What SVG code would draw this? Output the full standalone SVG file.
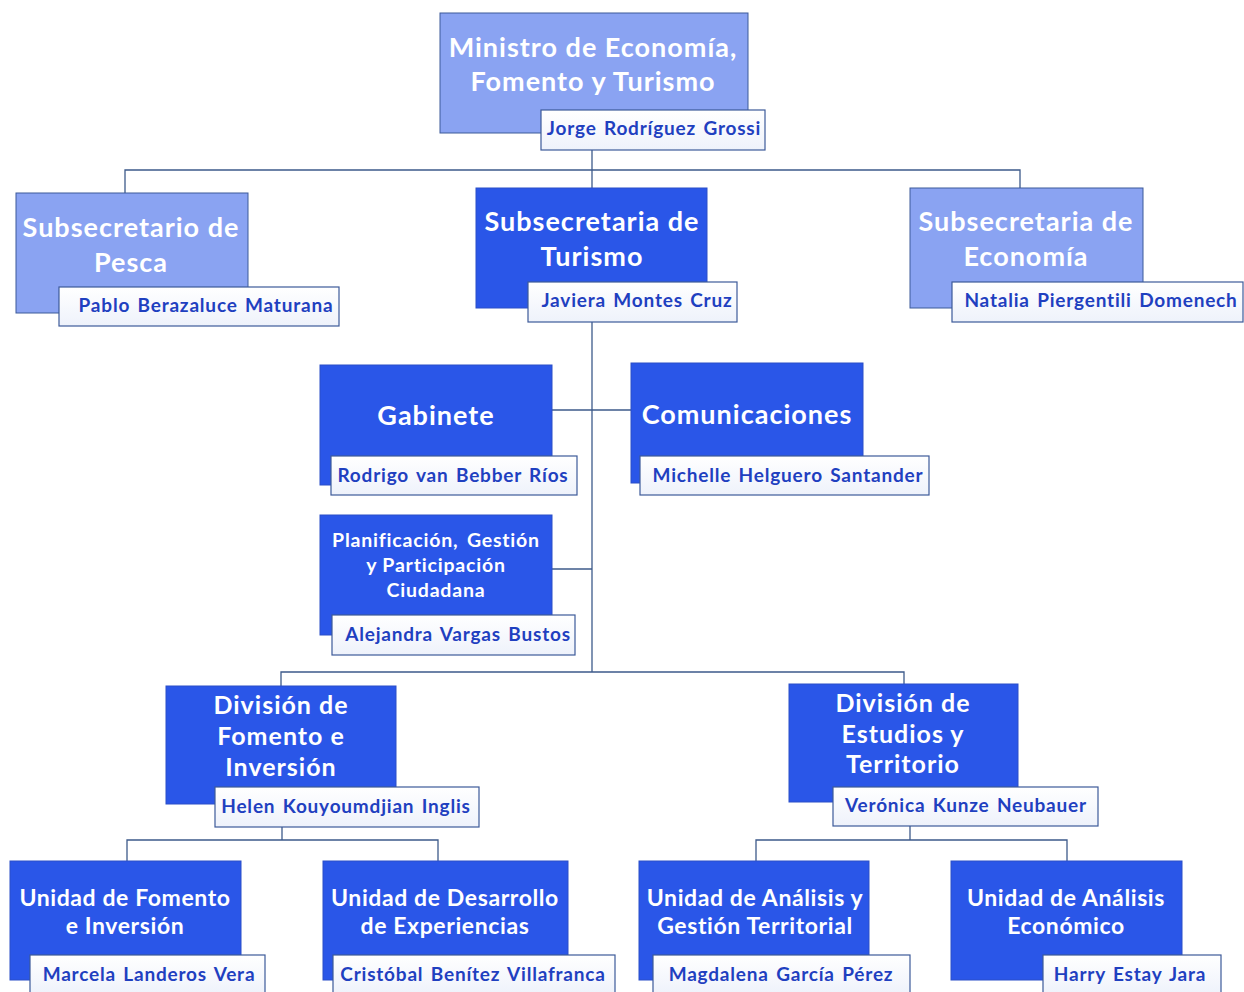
<svg xmlns="http://www.w3.org/2000/svg" width="1244" height="992" viewBox="0 0 1244 992">
<defs>
<linearGradient id="ng" x1="0" y1="0" x2="0" y2="1">
<stop offset="0" stop-color="#ffffff"/>
<stop offset="1" stop-color="#eef2fb"/>
</linearGradient>
<style>
.lt{fill:#8aa3f2;stroke:#3d5a99;stroke-width:1}
.dk{fill:#2a56e8;stroke:#2a4fc8;stroke-width:1}
.nb{fill:url(#ng);stroke:#3d5a99;stroke-width:1.2}
.t{font-family:Lato,"Open Sans",sans-serif;font-weight:bold;fill:#ffffff;text-anchor:middle;letter-spacing:1px}
.n{font-family:Lato,"Open Sans",sans-serif;font-weight:bold;fill:#1f40c0;text-anchor:middle;font-size:19px;letter-spacing:0.8px;word-spacing:2px}
.c{fill:none;stroke:#3d5a8a;stroke-width:1.3}
</style>
</defs>
<rect width="1244" height="992" fill="#ffffff"/>
<g id="connectors">
<polyline class="c" points="592,150 592,170"/>
<polyline class="c" points="125,193 125,170 1020,170 1020,188"/>
<polyline class="c" points="592,170 592,188"/>
<polyline class="c" points="592,322 592,672"/>
<polyline class="c" points="552,410 631,410"/>
<polyline class="c" points="552,569 592,569"/>
<polyline class="c" points="281,686 281,672 904,672 904,684"/>
<polyline class="c" points="282,827 282,840"/>
<polyline class="c" points="127,861 127,840 438,840 438,861"/>
<polyline class="c" points="910,826 910,840"/>
<polyline class="c" points="756,861 756,840 1067,840 1067,861"/>
</g>
<g id="ministro">
<rect class="lt" x="440" y="13" width="308" height="120"/>
<text class="t" x="593" y="57" font-size="27">Ministro de Economía,</text>
<text class="t" x="593" y="91" font-size="27">Fomento y Turismo</text>
<rect class="nb" x="541" y="110" width="224" height="40"/>
<text class="n" x="654" y="135">Jorge Rodríguez Grossi</text>
</g>
<g id="pesca">
<rect class="lt" x="16" y="193" width="232" height="120"/>
<text class="t" x="131" y="237" font-size="27">Subsecretario de</text>
<text class="t" x="131" y="272" font-size="27">Pesca</text>
<rect class="nb" x="59" y="287" width="280" height="39"/>
<text class="n" x="206" y="312">Pablo Berazaluce Maturana</text>
</g>
<g id="turismo">
<rect class="dk" x="476" y="188" width="231" height="120"/>
<text class="t" x="592" y="231" font-size="27">Subsecretaria de</text>
<text class="t" x="592" y="266" font-size="27">Turismo</text>
<rect class="nb" x="528" y="282" width="209" height="40"/>
<text class="n" x="637" y="307">Javiera Montes Cruz</text>
</g>
<g id="economia">
<rect class="lt" x="910" y="188" width="233" height="120"/>
<text class="t" x="1026" y="231" font-size="27">Subsecretaria de</text>
<text class="t" x="1026" y="266" font-size="27">Economía</text>
<rect class="nb" x="952" y="282" width="291" height="40"/>
<text class="n" x="1101" y="307">Natalia Piergentili Domenech</text>
</g>
<g id="gabinete">
<rect class="dk" x="320" y="365" width="232" height="120"/>
<text class="t" x="436" y="425" font-size="27">Gabinete</text>
<rect class="nb" x="331" y="456" width="246" height="39"/>
<text class="n" x="453" y="482">Rodrigo van Bebber Ríos</text>
</g>
<g id="comunicaciones">
<rect class="dk" x="631" y="363" width="232" height="120"/>
<text class="t" x="747" y="424" font-size="27">Comunicaciones</text>
<rect class="nb" x="640" y="456" width="289" height="39"/>
<text class="n" x="788" y="482">Michelle Helguero Santander</text>
</g>
<g id="planificacion">
<rect class="dk" x="320" y="515" width="232" height="120"/>
<text class="t" x="436" y="547" font-size="19.5" style="letter-spacing:0.8px;word-spacing:3px">Planificación, Gestión</text>
<text class="t" x="436" y="572" font-size="19.5" style="letter-spacing:0.8px">y Participación</text>
<text class="t" x="436" y="597" font-size="19.5" style="letter-spacing:0.8px">Ciudadana</text>
<rect class="nb" x="332" y="615" width="243" height="40"/>
<text class="n" x="458" y="641">Alejandra Vargas Bustos</text>
</g>
<g id="division-fomento">
<rect class="dk" x="166" y="686" width="230" height="118"/>
<text class="t" x="281" y="714" font-size="25">División de</text>
<text class="t" x="281" y="745" font-size="25">Fomento e</text>
<text class="t" x="281" y="776" font-size="25">Inversión</text>
<rect class="nb" x="215" y="787" width="264" height="40"/>
<text class="n" x="346" y="813">Helen Kouyoumdjian Inglis</text>
</g>
<g id="division-estudios">
<rect class="dk" x="789" y="684" width="229" height="118"/>
<text class="t" x="903" y="712" font-size="25">División de</text>
<text class="t" x="903" y="743" font-size="25">Estudios y</text>
<text class="t" x="903" y="773" font-size="25">Territorio</text>
<rect class="nb" x="833" y="787" width="265" height="39"/>
<text class="n" x="966" y="812">Verónica Kunze Neubauer</text>
</g>
<g id="unidad-fomento">
<rect class="dk" x="10" y="861" width="231" height="119"/>
<text class="t" x="125" y="906" font-size="23" style="letter-spacing:0.6px">Unidad de Fomento</text>
<text class="t" x="125" y="934" font-size="23" style="letter-spacing:0.6px">e Inversión</text>
<rect class="nb" x="30" y="955" width="235" height="40"/>
<text class="n" x="149" y="981">Marcela Landeros Vera</text>
</g>
<g id="unidad-desarrollo">
<rect class="dk" x="323" y="861" width="245" height="119"/>
<text class="t" x="445" y="906" font-size="23" style="letter-spacing:0.6px">Unidad de Desarrollo</text>
<text class="t" x="445" y="934" font-size="23" style="letter-spacing:0.6px">de Experiencias</text>
<rect class="nb" x="333" y="955" width="282" height="40"/>
<text class="n" x="473" y="981">Cristóbal Benítez Villafranca</text>
</g>
<g id="unidad-analisis-territorial">
<rect class="dk" x="639" y="861" width="230" height="119"/>
<text class="t" x="755" y="906" font-size="23" style="letter-spacing:0.6px">Unidad de Análisis y</text>
<text class="t" x="755" y="934" font-size="23" style="letter-spacing:0.6px">Gestión Territorial</text>
<rect class="nb" x="653" y="955" width="257" height="40"/>
<text class="n" x="781" y="981">Magdalena García Pérez</text>
</g>
<g id="unidad-analisis-economico">
<rect class="dk" x="951" y="861" width="231" height="119"/>
<text class="t" x="1066" y="906" font-size="23" style="letter-spacing:0.6px">Unidad de Análisis</text>
<text class="t" x="1066" y="934" font-size="23" style="letter-spacing:0.6px">Económico</text>
<rect class="nb" x="1043" y="955" width="178" height="40"/>
<text class="n" x="1130" y="981">Harry Estay Jara</text>
</g>
</svg>
